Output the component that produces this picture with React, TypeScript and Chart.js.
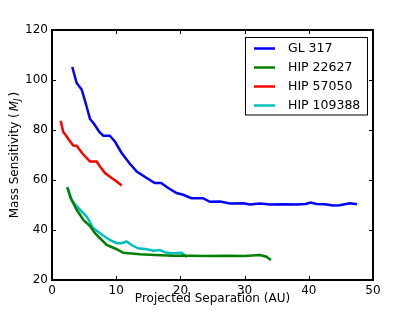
import React, { useEffect, useRef } from "react";
import { Chart, registerables } from "chart.js";

Chart.register(...registerables);

const gl317X = [3.16, 3.84, 4.62, 5.24, 5.92, 6.54, 7.37, 8.0, 9.0, 9.8, 10.85, 12.04, 13.2, 14.75, 16.0, 17.0, 18.1, 19.4, 20.45, 21.7, 23.5, 24.6, 26.2, 27.7, 29.8, 30.8, 32.4, 34.0, 36.0, 38.0, 39.5, 40.3, 41.2, 42.5, 43.8, 44.8, 46.4, 47.5];
const gl317Y = [105.2, 98.8, 96.2, 90.8, 84.4, 82.5, 79.2, 77.7, 77.7, 75.4, 70.8, 66.8, 63.4, 60.8, 58.8, 58.8, 56.8, 54.8, 54.1, 52.7, 52.7, 51.3, 51.4, 50.6, 50.7, 50.2, 50.6, 50.2, 50.3, 50.2, 50.4, 51.0, 50.4, 50.3, 49.8, 49.9, 50.7, 50.3];

const hip22627X = [2.39, 2.91, 3.32, 3.84, 4.36, 4.88, 5.92, 6.7, 7.48, 8.52, 10.08, 11.1, 13.7, 16.0, 18.9, 21.5, 24.1, 27.0, 30.0, 32.4, 33.4, 34.1];
const hip22627Y = [57.1, 52.7, 50.7, 48.1, 46.1, 44.0, 41.6, 38.7, 36.7, 34.0, 32.3, 30.9, 30.3, 30.0, 29.7, 29.7, 29.6, 29.7, 29.6, 30.0, 29.3, 28.0];

const hip57050X = [1.35, 1.76, 2.29, 2.54, 3.32, 3.84, 4.78, 5.92, 6.96, 7.48, 8.26, 9.3, 10.08, 10.85];
const hip57050Y = [83.7, 79.2, 77.4, 76.4, 73.8, 73.7, 70.5, 67.4, 67.4, 65.4, 62.8, 60.8, 59.4, 57.8];

const hip109388X = [2.39, 3.06, 3.58, 4.36, 5.4, 6.44, 7.48, 9.0, 10.08, 10.85, 11.6, 12.4, 13.4, 14.75, 15.8, 16.8, 17.6, 18.6, 20.2, 21.0];
const hip109388Y = [57.1, 52.1, 50.1, 48.1, 45.4, 40.7, 38.7, 36.0, 34.7, 34.7, 35.4, 34.0, 32.7, 32.3, 31.7, 32.0, 31.1, 30.7, 30.9, 29.1];

const seriesLabels = ["GL 317", "HIP 22627", "HIP 57050", "HIP 109388"];
const seriesColors = ["#0000ff", "#008000", "#ff0000", "#00bfbf"];
const xTicks = [0, 10, 20, 30, 40, 50];
const yTicks = [20, 40, 60, 80, 100, 120];

const FONT = "DejaVu Sans";

function pts(xs: number[], ys: number[]) {
  return xs.map((x, i) => ({ x, y: ys[i] }));
}

const framePlugin = {
  id: "frame",
  afterDraw(chart: any) {
    const ctx = chart.ctx;
    const xs = chart.scales.x;
    const ys = chart.scales.y;
    const L = Math.round(xs.getPixelForValue(0));
    const R = Math.round(xs.getPixelForValue(50));
    const T = Math.round(ys.getPixelForValue(120));
    const B = Math.round(ys.getPixelForValue(20));
    ctx.save();
    // frame
    ctx.fillStyle = "#000000";
    ctx.fillRect(L - 1, T - 1, R - L + 2, 2);
    ctx.fillRect(L - 1, B - 1, R - L + 2, 2);
    ctx.fillRect(L - 1, T - 1, 2, B - T + 2);
    ctx.fillRect(R - 1, T - 1, 2, B - T + 2);
    // inward ticks on all sides
    const tl = 4;
    xTicks.forEach((v) => {
      const px = Math.round(xs.getPixelForValue(v));
      ctx.fillRect(px, B - tl, 1, tl);
      ctx.fillRect(px, T, 1, tl);
    });
    yTicks.forEach((v) => {
      const py = Math.round(ys.getPixelForValue(v));
      ctx.fillRect(L, py, tl, 1);
      ctx.fillRect(R - tl, py, tl, 1);
    });

    // x axis title
    ctx.font = `12px "${FONT}"`;
    ctx.textAlign = "center";
    ctx.textBaseline = "alphabetic";
    ctx.fillText("Projected Separation (AU)", (L + R) / 2, 302);

    // y axis title with italic M and subscript J
    const cy = (T + B) / 2;
    ctx.save();
    ctx.translate(18, cy);
    ctx.rotate(-Math.PI / 2);
    const parts: [string, string, number, number][] = [
      ["Mass Sensitivity (", `12px "${FONT}"`, 0, 0],
      ["M", `italic 12px "${FONT}"`, 0, 2],
      ["J", `italic 8.5px "${FONT}"`, 2, 2],
      [")", `12px "${FONT}"`, 0, 0],
    ];
    let total = 0;
    const widths = parts.map(([t, f, , extra]) => {
      ctx.font = f;
      const w = ctx.measureText(t).width + extra;
      total += w;
      return w;
    });
    let x = -total / 2;
    ctx.textAlign = "left";
    parts.forEach(([t, f, dy, extra], i) => {
      ctx.font = f;
      ctx.fillText(t, x + (t === "M" ? extra : 0), dy);
      x += widths[i];
    });
    ctx.restore();

    // legend
    const lx = 245.5, ly = 37.5, lw = 122, lh = 77.5;
    ctx.fillStyle = "#ffffff";
    ctx.fillRect(lx, ly, lw, lh);
    ctx.strokeStyle = "#000000";
    ctx.lineWidth = 1;
    ctx.strokeRect(lx, ly, lw, lh);
    chart.data.datasets.forEach((ds: any, i: number) => {
      const y = 48.5 + i * 19;
      ctx.strokeStyle = ds.borderColor;
      ctx.lineWidth = 2.5;
      ctx.beginPath();
      ctx.moveTo(254, y);
      ctx.lineTo(275, y);
      ctx.stroke();
      ctx.fillStyle = "#000000";
      ctx.font = `12.5px "${FONT}"`;
      ctx.textAlign = "left";
      ctx.textBaseline = "middle";
      ctx.fillText(ds.label, 288, y + 0.5);
    });
    ctx.restore();
  },
};

export default function App() {
  const ref = useRef<HTMLCanvasElement | null>(null);
  useEffect(() => {
    if (!ref.current) return;
    const xsArr = [gl317X, hip22627X, hip57050X, hip109388X];
    const ysArr = [gl317Y, hip22627Y, hip57050Y, hip109388Y];
    const chart = new Chart(ref.current, {
      type: "line",
      data: {
        datasets: seriesLabels.map((label, i) => ({
          label,
          data: pts(xsArr[i], ysArr[i]),
          borderColor: seriesColors[i],
          backgroundColor: seriesColors[i],
          borderWidth: 2.5,
          pointRadius: 0,
          tension: 0,
          fill: false,
        })),
      },
      options: {
        responsive: false,
        animation: false,
        events: [],
        layout: { padding: { top: 30, right: 42, left: 0, bottom: 0 } },
        plugins: { legend: { display: false }, tooltip: { enabled: false } },
        scales: {
          x: {
            type: "linear",
            min: 0,
            max: 50,
            afterBuildTicks: (s: any) => {
              s.ticks = xTicks.map((v) => ({ value: v }));
            },
            afterFit: (s: any) => {
              s.height = 32;
            },
            grid: { display: false, drawTicks: false },
            border: { display: false },
            ticks: { padding: 4, color: "#000", font: { family: FONT, size: 12 }, maxRotation: 0 },
          },
          y: {
            type: "linear",
            min: 20,
            max: 120,
            afterBuildTicks: (s: any) => {
              s.ticks = yTicks.map((v) => ({ value: v }));
            },
            afterFit: (s: any) => {
              s.width = 52;
            },
            grid: { display: false, drawTicks: false },
            border: { display: false },
            ticks: { padding: 4, color: "#000", font: { family: FONT, size: 12 } },
          },
        },
      },
      plugins: [framePlugin],
    });
    return () => chart.destroy();
  }, []);
  return (
    <div style={{ position: "fixed", left: 0, top: 0, width: 415, height: 312, background: "#fff" }}>
      <canvas ref={ref} width={415} height={312} />
    </div>
  );
}
